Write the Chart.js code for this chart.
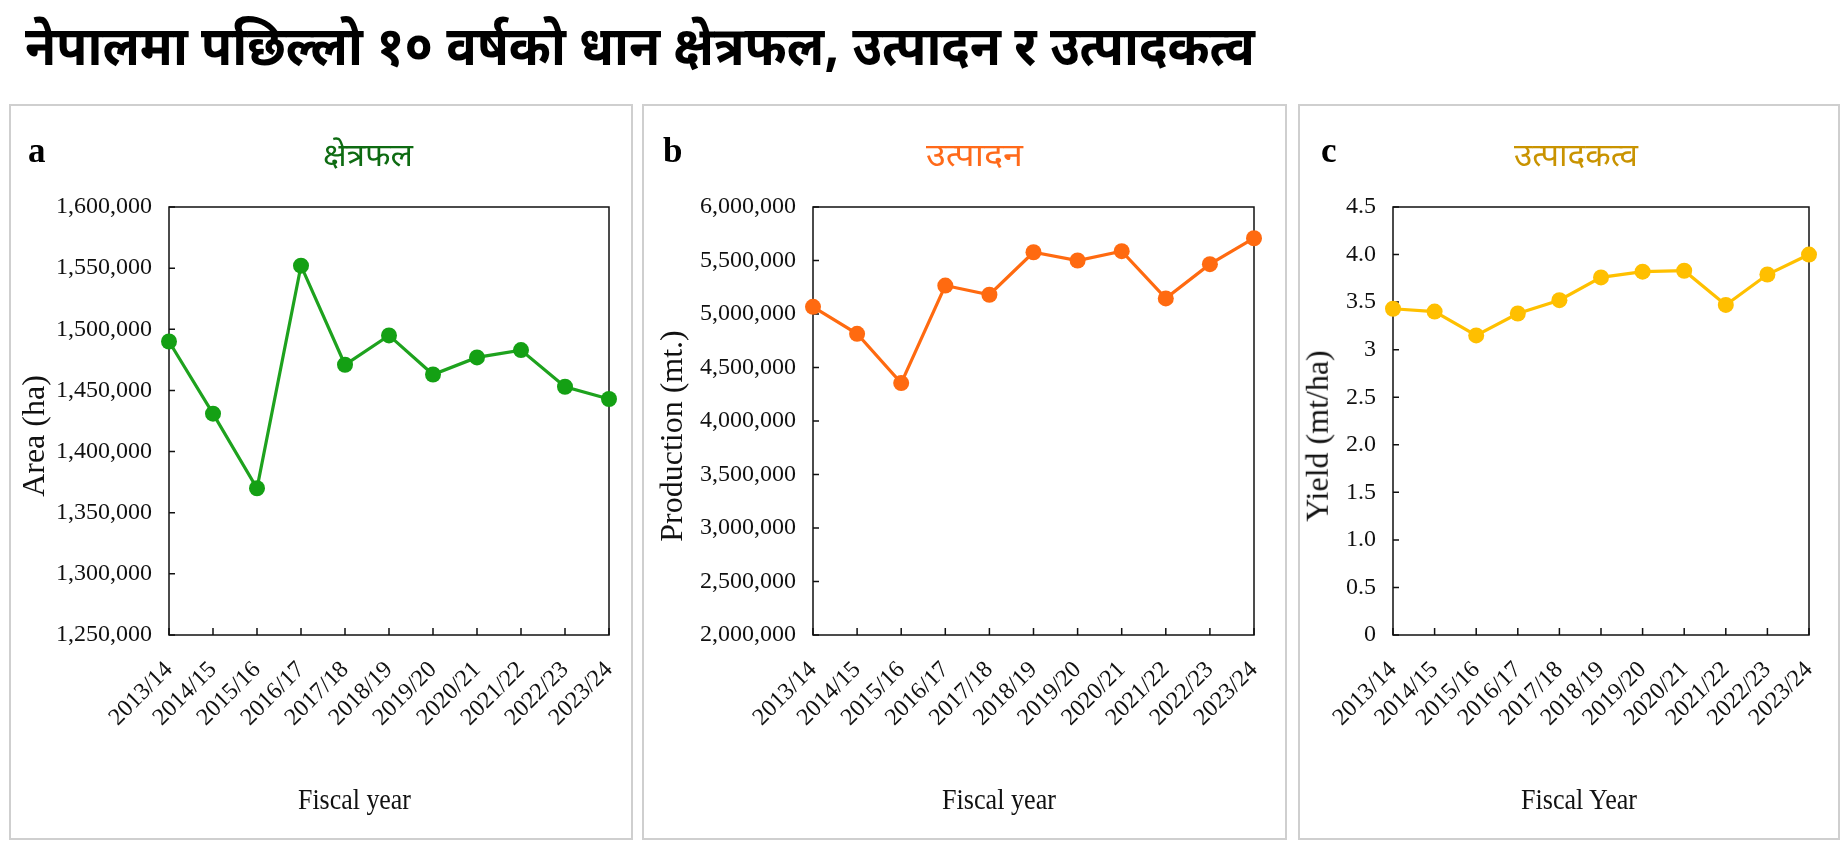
<!DOCTYPE html>
<html><head><meta charset="utf-8">
<script src="https://cdn.jsdelivr.net/npm/chart.js@4.4.1/dist/chart.umd.min.js"></script>
<style>
html,body{margin:0;padding:0;background:#fff;width:1848px;height:851px;overflow:hidden;position:relative;}
.panel{position:absolute;top:104px;height:736px;border:2px solid #cfcfcf;box-sizing:border-box;}
canvas{position:absolute;}
.t{position:absolute;white-space:nowrap;line-height:1;transform-origin:0 0;}
.deva{font-family:"Noto Sans Devanagari","Noto Serif Devanagari","Lohit Devanagari","Mukta","FreeSans",sans-serif;}
.serif{font-family:"Liberation Serif","DejaVu Serif",serif;color:#111;}
</style></head><body>
<script>
// ---------- data ----------
const fiscalYears = ['2013/14','2014/15','2015/16','2016/17','2017/18','2018/19','2019/20','2020/21','2021/22','2022/23','2023/24'];
const areaHa = [1490000, 1431000, 1370000, 1552000, 1471000, 1495000, 1463000, 1477000, 1483000, 1453000, 1443000];
const productionMt = [5067000, 4815000, 4354000, 5266000, 5180000, 5577000, 5500000, 5587000, 5146000, 5466000, 5708000];
const yieldMtHa = [3.43, 3.40, 3.15, 3.38, 3.52, 3.76, 3.82, 3.83, 3.47, 3.79, 4.00];
const areaTickLabels = ['1,250,000','1,300,000','1,350,000','1,400,000','1,450,000','1,500,000','1,550,000','1,600,000'];
const productionTickLabels = ['2,000,000','2,500,000','3,000,000','3,500,000','4,000,000','4,500,000','5,000,000','5,500,000','6,000,000'];
const yieldTickLabels = ['0','0.5','1.0','1.5','2.0','2.5','3','3.5','4.0','4.5'];
const mainTitle = 'नेपालमा पछिल्लो १० वर्षको धान क्षेत्रफल, उत्पादन र उत्पादकत्व';

// ---------- layout ----------
const CANVAS_TOP = 105, CANVAS_H = 734, PLOT_TOP = 207, PLOT_BOTTOM = 635;
const panels = [
  {letter:'a', title:'क्षेत्रफल', titleColor:'#0e6b12', titleX:323, titleW:90,
   frameL:9, frameR:633, plotL:169, plotR:609, letterX:28,
   yTitle:'Area (ha)', yTitleX:33, xTitle:'Fiscal year', xTitleX:298, xTitleW:113,
   data:areaHa, min:1250000, max:1600000, step:50000, tickLabels:areaTickLabels,
   line:'#1ea21e', point:'#14a014'},
  {letter:'b', title:'उत्पादन', titleColor:'#ff6a1a', titleX:926, titleW:97,
   frameL:642, frameR:1287, plotL:813, plotR:1254, letterX:663,
   yTitle:'Production (mt.)', yTitleX:671, xTitle:'Fiscal year', xTitleX:942, xTitleW:114,
   data:productionMt, min:2000000, max:6000000, step:500000, tickLabels:productionTickLabels,
   line:'#ff6a10', point:'#ff6a10'},
  {letter:'c', title:'उत्पादकत्व', titleColor:'#c99300', titleX:1514, titleW:124,
   frameL:1298, frameR:1840, plotL:1393, plotR:1809, letterX:1321,
   yTitle:'Yield (mt/ha)', yTitleX:1317, xTitle:'Fiscal Year', xTitleX:1521, xTitleW:116,
   data:yieldMtHa, min:0, max:4.5, step:0.5, tickLabels:yieldTickLabels,
   line:'#ffc000', point:'#ffbf00'}
];

function placeText(text, cls, style, x, baseline, targetW, centerX) {
  const el = document.createElement('div');
  el.className = 't ' + cls;
  el.textContent = text;
  Object.assign(el.style, style);
  const marker = document.createElement('span');
  marker.style.cssText = 'display:inline-block;width:0;height:0;vertical-align:baseline;';
  el.appendChild(marker);
  el.style.left = '0px'; el.style.top = '0px';
  document.body.appendChild(el);
  const r = el.getBoundingClientRect();
  const b = marker.getBoundingClientRect().top - r.top;
  let sx = 1;
  if (targetW) { sx = targetW / r.width; el.style.transform = 'scaleX(' + sx + ')'; }
  const w = r.width * sx;
  el.style.left = (centerX ? x - w / 2 : x) + 'px';
  el.style.top = (baseline - b) + 'px';
  return el;
}

function placeRotated(text, cx, cy, size) {
  const el = document.createElement('div');
  el.className = 't serif';
  el.textContent = text;
  el.style.fontSize = size + 'px';
  document.body.appendChild(el);
  const r = el.getBoundingClientRect();
  el.style.left = (cx - r.width / 2) + 'px';
  el.style.top = (cy - r.height / 2) + 'px';
  el.style.transformOrigin = '50% 50%';
  el.style.transform = 'rotate(-90deg)';
}

placeText(mainTitle, 'deva', {fontSize:'54px', fontWeight:'700', color:'#000'}, 25, 65, 1230, false);

const framePlugin = {
  id: 'frameTicks',
  beforeDatasetsDraw(chart) {
    const {ctx, chartArea:a, scales} = chart;
    ctx.save();
    ctx.strokeStyle = '#111';
    ctx.lineWidth = 1.5;
    ctx.strokeRect(a.left, a.top, a.right - a.left, a.bottom - a.top);
    ctx.beginPath();
    scales.x.ticks.forEach((t, i) => {
      const px = scales.x.getPixelForTick(i);
      ctx.moveTo(px, a.bottom); ctx.lineTo(px, a.bottom - 7);
    });
    scales.y.ticks.forEach((t, i) => {
      const py = scales.y.getPixelForTick(i);
      ctx.moveTo(a.left, py); ctx.lineTo(a.left + 6, py);
    });
    ctx.stroke();
    ctx.restore();
  }
};

panels.forEach(p => {
  const frame = document.createElement('div');
  frame.className = 'panel';
  frame.style.left = p.frameL + 'px';
  frame.style.width = (p.frameR - p.frameL) + 'px';
  document.body.appendChild(frame);

  const cL = p.frameL + 1, cW = p.frameR - p.frameL - 2;
  const cv = document.createElement('canvas');
  cv.width = cW; cv.height = CANVAS_H;
  cv.style.left = cL + 'px'; cv.style.top = CANVAS_TOP + 'px';
  cv.style.width = cW + 'px'; cv.style.height = CANVAS_H + 'px';
  document.body.appendChild(cv);

  const yWidth = p.plotL - cL;
  const rightPad = (cL + cW) - p.plotR;
  const xHeight = (CANVAS_TOP + CANVAS_H) - PLOT_BOTTOM;
  const tickFont = {family:'Liberation Serif', size:24};

  new Chart(cv, {
    type: 'line',
    data: {
      labels: fiscalYears,
      datasets: [{
        data: p.data,
        borderColor: p.line,
        borderWidth: 3.2,
        pointRadius: 8,
        pointHoverRadius: 8,
        pointBackgroundColor: p.point,
        pointBorderWidth: 0,
        tension: 0,
        clip: false
      }]
    },
    options: {
      responsive: false,
      animation: false,
      devicePixelRatio: 1,
      events: [],
      layout: {padding: {top: PLOT_TOP - CANVAS_TOP, left: 0, right: rightPad, bottom: 0}},
      plugins: {legend: {display: false}, tooltip: {enabled: false}, title: {display: false}},
      scales: {
        x: {
          type: 'category', offset: false,
          grid: {display: false, drawTicks: false}, border: {display: false},
          ticks: {autoSkip: false, minRotation: 45, maxRotation: 45, padding: 21, color: '#111',
                  font: {family: 'Liberation Serif', size: 24}},
          afterFit: s => { s.height = xHeight; s.paddingLeft = 0; s.paddingRight = 0; }
        },
        y: {
          min: p.min, max: p.max,
          grid: {display: false, drawTicks: false}, border: {display: false},
          ticks: {stepSize: p.step, padding: 17, color: '#111', font: tickFont,
                  callback: (v, i) => p.tickLabels[i]},
          afterFit: s => { s.width = yWidth; s.paddingTop = 0; s.paddingBottom = 0; }
        }
      }
    },
    plugins: [framePlugin]
  });

  placeText(p.letter, 'serif', {fontSize:'35px', fontWeight:'700', color:'#000'}, p.letterX, 162, 0, false);
  placeText(p.title, 'deva', {fontSize:'32px', color:p.titleColor}, p.titleX, 166, p.titleW, false);
  placeText(p.xTitle, 'serif', {fontSize:'30px'}, p.xTitleX, 809, p.xTitleW, false);
  placeRotated(p.yTitle, p.yTitleX, 436, 32);
});
</script>
</body></html>
